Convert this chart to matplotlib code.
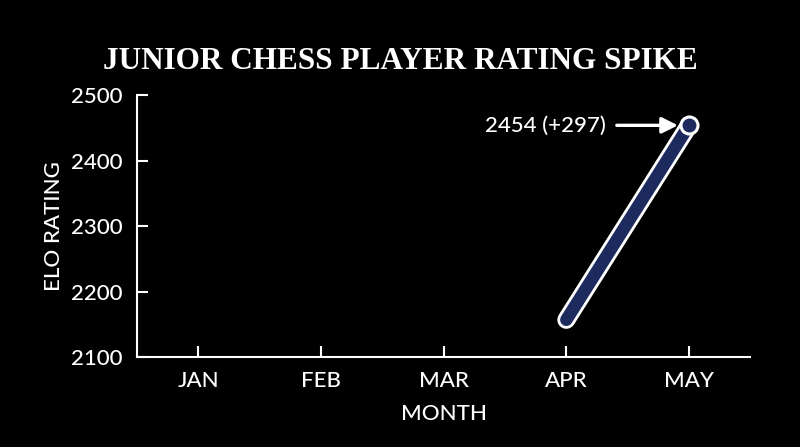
import matplotlib
matplotlib.use("Agg")
import matplotlib.pyplot as plt
import matplotlib.patheffects as pe

months = ["JAN", "FEB", "MAR", "APR", "MAY"]
data_months = ["APR", "MAY"]
ratings = [2157, 2454]
yticks = [2100, 2200, 2300, 2400, 2500]
title = "JUNIOR CHESS PLAYER RATING SPIKE"
annot = "2454 (+297)"

NAVY = "#1d2a5e"
FONT = ["Lato", "DejaVu Sans"]
FS = 16

fig = plt.figure(figsize=(8.0, 4.47), dpi=100, facecolor="black")
ax = fig.add_axes([0.171, 0.201, 0.767, 0.586])
ax.set_facecolor("black")

xpos = [months.index(m) for m in data_months]
ax.plot(xpos, ratings, color=NAVY, linewidth=9, solid_capstyle="round",
        path_effects=[pe.Stroke(linewidth=13, foreground="white", capstyle="round"), pe.Normal()],
        zorder=3)
ax.scatter([xpos[-1]], [ratings[-1]], s=150, facecolor=NAVY, edgecolor="white",
           linewidth=2.2, zorder=4)

ax.annotate(annot, xy=(xpos[-1], ratings[-1]), xytext=(-60, 0), textcoords="offset points",
            ha="right", va="center", color="white", fontsize=FS, family=FONT, fontweight="medium",
            arrowprops=dict(arrowstyle="-|>", color="white", lw=2.4, mutation_scale=24,
                            shrinkA=6, shrinkB=8))

ax.set_xlim(-0.5, 4.5)
ax.set_ylim(2100, 2500)
ax.set_xticks(range(len(months)))
ax.set_xticklabels(months)
ax.set_yticks(yticks)
ax.set_yticklabels([str(v) for v in yticks])

for s in ["top", "right"]:
    ax.spines[s].set_visible(False)
for s in ["left", "bottom"]:
    ax.spines[s].set_color("white")
    ax.spines[s].set_linewidth(1.5)
ax.tick_params(axis="both", direction="in", length=8, width=1.5, color="white",
               labelcolor="white", labelsize=FS, pad=10)
for lab in ax.get_xticklabels() + ax.get_yticklabels():
    lab.set_family(FONT)
    lab.set_fontweight("medium")

ax.set_xlabel("MONTH", color="white", fontsize=FS, family=FONT, fontweight="medium", labelpad=9)
ax.set_ylabel("ELO RATING", color="white", fontsize=FS, family=FONT, fontweight="medium", labelpad=5)

fig.text(0.5, 0.863, title, ha="center", va="center", color="white",
         fontsize=22.5, family=["Liberation Serif", "DejaVu Serif"], fontweight="bold")

fig.savefig("out.png", dpi=100, facecolor="black")
